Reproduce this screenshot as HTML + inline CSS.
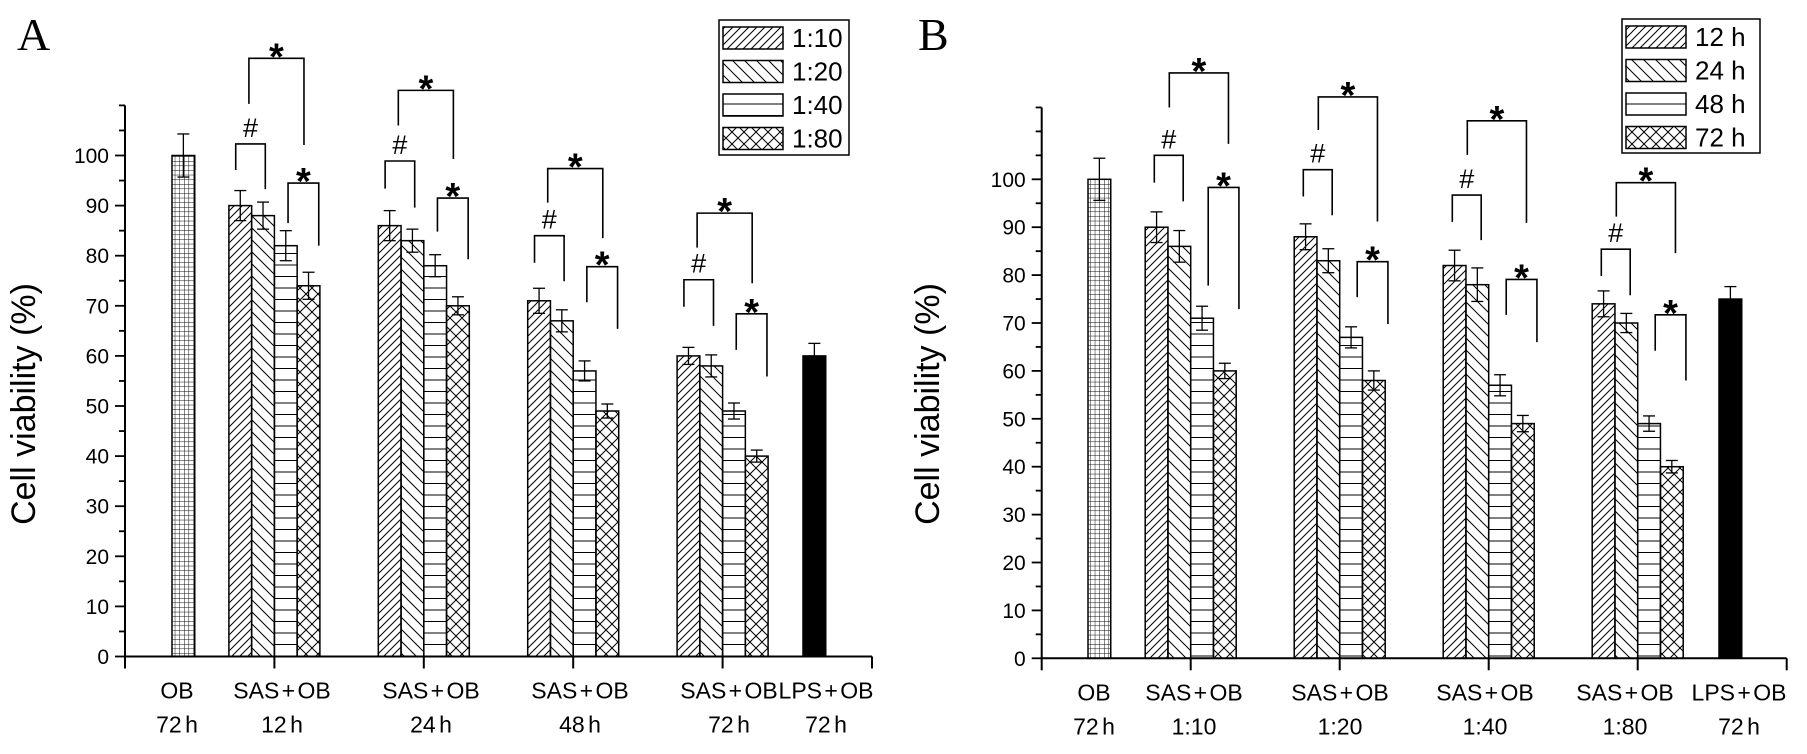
<!DOCTYPE html>
<html><head><meta charset="utf-8"><style>
html,body{margin:0;padding:0;background:#fff;}
svg{display:block;font-family:"Liberation Sans",Arial,sans-serif;}
</style></head><body>
<svg id="chart" width="1807" height="754" viewBox="0 0 1807 754" xmlns="http://www.w3.org/2000/svg">
<defs>
<pattern id="pGrid" patternUnits="userSpaceOnUse" width="4.6" height="4.6"><path d="M0 0H4.6M0 0V4.6" stroke="#000" stroke-width="0.9" fill="none"/></pattern>
<pattern id="pFwd" patternUnits="userSpaceOnUse" width="8" height="8"><path d="M-2 10L10 -2M-2 2L2 -2M6 10L10 6" stroke="#000" stroke-width="1" fill="none"/></pattern>
<pattern id="pBack" patternUnits="userSpaceOnUse" width="12" height="12"><path d="M-2 -2L14 14M-2 10L2 14M10 -2L14 2" stroke="#000" stroke-width="1" fill="none"/></pattern>
<pattern id="pHor" patternUnits="userSpaceOnUse" width="11" height="11.5"><path d="M0 0.5H11" stroke="#000" stroke-width="1" fill="none"/></pattern>
<pattern id="pCross" patternUnits="userSpaceOnUse" width="12" height="12"><path d="M0 0L12 12M12 0L0 12" stroke="#000" stroke-width="1" fill="none"/></pattern>
</defs>
</svg>
<script>
// ---------- Panel A data (ratio series across incubation times) ----------
const groupsA = ['12 h','24 h','48 h','72 h'];
const seriesNamesA = ['1:10','1:20','1:40','1:80'];
const valsA = [[90,86,71,60],[88,83,67,58],[82,78,57,49],[74,70,49,40]];
const errsA = [[3,3,2.5,1.7],[2.7,2.3,2.2,2.2],[3,2.2,2,1.6],[2.7,1.8,1.4,1.2]];
const ctrlA = [100, 60];
const ctrlErrA = [4.3, 2.5];
const hashA = [[102.3,97.1,93.3],[98.9,93.4,89.6],[84,78.6,74.9],[75.2,69.8,66]];
const bigA = [[119.4,110.3,102.1],[113,106,99.3],[97.4,90.6,83.5],[88.5,81.6,74.5]];
const smallA = [[94.5,86.5,82],[91.5,84.8,79.3],[77.8,70.7,65.4],[68.4,61.2,55.9]];
// ---------- Panel B data (time series across ratios) ----------
const groupsB = ['1:10','1:20','1:40','1:80'];
const seriesNamesB = ['12 h','24 h','48 h','72 h'];
const valsB = [[90,88,82,74],[86,83,78,70],[71,67,57,49],[60,58,49,40]];
const errsB = [[3.2,2.7,3.2,2.7],[3.3,2.5,3.5,2],[2.5,2.2,2.2,1.6],[1.6,2,1.7,1.3]];
const ctrlB = [100, 75];
const ctrlErrB = [4.4, 2.6];
const hashB = [[105,99.3,95.4],[102,96.4,92.5],[96.7,91.1,87.3],[85.4,79.8,75.8]];
const bigB = [[122.2,115,107.4],[117.2,110.3,91.2],[112.2,105.1,90.9],[99.3,92.2,84.6]];
const smallB = [[98.3,77.8,72.9],[82.8,75.4,69.8],[79.1,71.7,66],[71.7,64.2,58]];
const yTicks = [0,10,20,30,40,50,60,70,80,90,100];

const NS='http://www.w3.org/2000/svg';
const svg=document.getElementById('chart');
const fills=['url(#pFwd)','url(#pBack)','url(#pHor)','url(#pCross)'];
function mk(tag,attrs,parent){const e=document.createElementNS(NS,tag);for(const k in attrs)e.setAttribute(k,attrs[k]);(parent||svg).appendChild(e);return e;}
function line(x1,y1,x2,y2,w,p){return mk('line',{x1,y1,x2,y2,stroke:'#000','stroke-width':w||1.5},p);}
function txt(s,x,y,size,anchor,p,extra){const t=mk('text',Object.assign({x,y,'font-size':size,'text-anchor':anchor||'middle',fill:'#000'},extra||{}),p);t.textContent=s;return t;}

function panel(cfg){
  const g=mk('g',{});
  
  
  const Y=v=>cfg.y0-(v/100)*(cfg.y0-cfg.y100);
  const X=i=>cfg.ax+i*cfg.step;
  const w=cfg.bw;
  const ya=mk('g',{},g);
  
  
  line(cfg.ax,Y(cfg.ymax),cfg.ax,cfg.y0+1,2,ya);
  for(let v=0;v<=cfg.ymax;v+=5){
    const major=(v%10===0&&v<=100);
    line(cfg.ax-(major?10:6),Y(v),cfg.ax,Y(v),1.8,ya);
  }
  yTicks.forEach(v=>{
    const t=txt(String(v),cfg.ax-16,Y(v)+7.5,21,'end',ya);
    
    
  });
  const yt=txt('Cell viability (%)',0,0,34,'middle',g,{transform:`translate(${cfg.titleX+12},${404}) rotate(-90)`});
  
  
  const xa=mk('g',{},g);
  
  
  line(cfg.ax-1,cfg.y0,X(5),cfg.y0,2,xa);
  for(let i=0;i<=5;i++) line(X(i),cfg.y0,X(i),cfg.y0+12,2,xa);
  cfg.labels.forEach((lb,i)=>{
    const a=txt(lb[0],cfg.labelX[i],cfg.y0+42,23,'middle',xa,{'word-spacing':'-4'});
    
    
    const b=txt(lb[1],cfg.labelX[i],cfg.y0+76,23,'middle',xa,{'word-spacing':'-3'});
    
    
  });
  function errbar(cx,v,e,p){
    line(cx,Y(v+e),cx,Y(v-e),1.3,p);
    line(cx-6,Y(v+e),cx+6,Y(v+e),1.3,p);
    line(cx-6,Y(v-e),cx+6,Y(v-e),1.3,p);
  }
  const ob=mk('rect',{x:cfg.obX,y:Y(cfg.ctrl[0]),width:w,height:cfg.y0-Y(cfg.ctrl[0]),fill:'url(#pGrid)',stroke:'#000','stroke-width':1.5},g);
  
  
  errbar(cfg.obX+w/2,cfg.ctrl[0],cfg.ctrlErr[0],g);
  const lps=mk('rect',{x:cfg.lpsX,y:Y(cfg.ctrl[1]),width:w,height:cfg.y0-Y(cfg.ctrl[1]),fill:'#000',stroke:'#000','stroke-width':1.5},g);
  
  
  errbar(cfg.lpsX+w/2,cfg.ctrl[1],cfg.ctrlErr[1],g);
  for(let gi=0;gi<4;gi++){
    const s=X(gi+1)-2*w;
    const gg=mk('g',{},g);
    
    
    for(let si=0;si<4;si++){
      const v=cfg.vals[si][gi];
      const r=mk('rect',{x:s+si*w,y:Y(v),width:w,height:cfg.y0-Y(v),fill:fills[si],stroke:'#000','stroke-width':1.5},gg);
      
      
      errbar(s+si*w+w/2,v,cfg.errs[si][gi],gg);
    }
    const br=(arr,off,sym,isHash)=>{
      const [top,lb,rb]=arr[gi];
      const x1=s+off[0]*w,x2=s+off[1]*w;
      const p=mk('path',{d:`M${x1} ${Y(lb)}V${Y(top)}H${x2}V${Y(rb)}`,fill:'none',stroke:'#000','stroke-width':1.6},gg);
      
      
      const t=isHash?txt(sym,(x1+x2)/2,Y(top)-7,27,'middle',gg):txt(sym,(x1+x2)/2,Y(top)+11,38,'middle',gg,{'font-weight':'bold'});
      
      
    };
    br(cfg.hash,cfg.offHash,'#',true);
    br(cfg.big,cfg.offBig,'*',false);
    br(cfg.small,cfg.offSmall,'*',false);
  }
  const lg=mk('g',{},g);
  
  
  mk('rect',{x:cfg.leg[0],y:cfg.leg[1],width:cfg.leg[2],height:cfg.leg[3],fill:'#fff',stroke:'#000','stroke-width':1.5},lg);
  cfg.series.forEach((nm,i)=>{
    const ey=cfg.leg[1]+7+i*33.5;
    const e=mk('g',{},lg);
    
    
    mk('rect',{x:cfg.leg[0]+4,y:ey,width:60,height:22,fill:fills[i],stroke:'#000','stroke-width':1.5},e);
    txt(nm,cfg.leg[0]+73,ey+20,26,'start',e);
  });
  const pl=txt(cfg.letter,cfg.letterX,50,46,'start',g,{'font-family':'"Liberation Serif",serif'});
  
  
}

panel({name:'panel-a',letter:'A',letterX:17,ax:125,step:149.4,y0:656.5,y100:155.5,ymax:110,bw:22.75,titleX:35-12,
  obX:172,lpsX:803,vals:valsA,errs:errsA,ctrl:ctrlA,ctrlErr:ctrlErrA,series:seriesNamesA,
  hash:hashA,big:bigA,small:smallA,offHash:[0.3,1.6],offBig:[0.88,3.3],offSmall:[2.6,3.95],
  leg:[719,20,130,135],
  labels:[['OB','72 h'],['SAS + OB',groupsA[0]],['SAS + OB',groupsA[1]],['SAS + OB',groupsA[2]],['SAS + OB',groupsA[3]],['LPS + OB','72 h']],
  labelX:[177,282,431,580,729,826]});
panel({name:'panel-b',letter:'B',letterX:918,ax:1041.7,step:149,y0:658.3,y100:179.3,ymax:115,bw:22.75,titleX:939-12,
  obX:1088,lpsX:1719,vals:valsB,errs:errsB,ctrl:ctrlB,ctrlErr:ctrlErrB,series:seriesNamesB,
  hash:hashB,big:bigB,small:smallB,offHash:[0.4,1.67],offBig:[1.06,3.66],offSmall:[2.77,4.12],
  leg:[1622,19,138,134],
  labels:[['OB','72 h'],['SAS + OB',groupsB[0]],['SAS + OB',groupsB[1]],['SAS + OB',groupsB[2]],['SAS + OB',groupsB[3]],['LPS + OB','72 h']],
  labelX:[1094,1194,1340,1485,1625,1739]});
</script>
</body></html>
